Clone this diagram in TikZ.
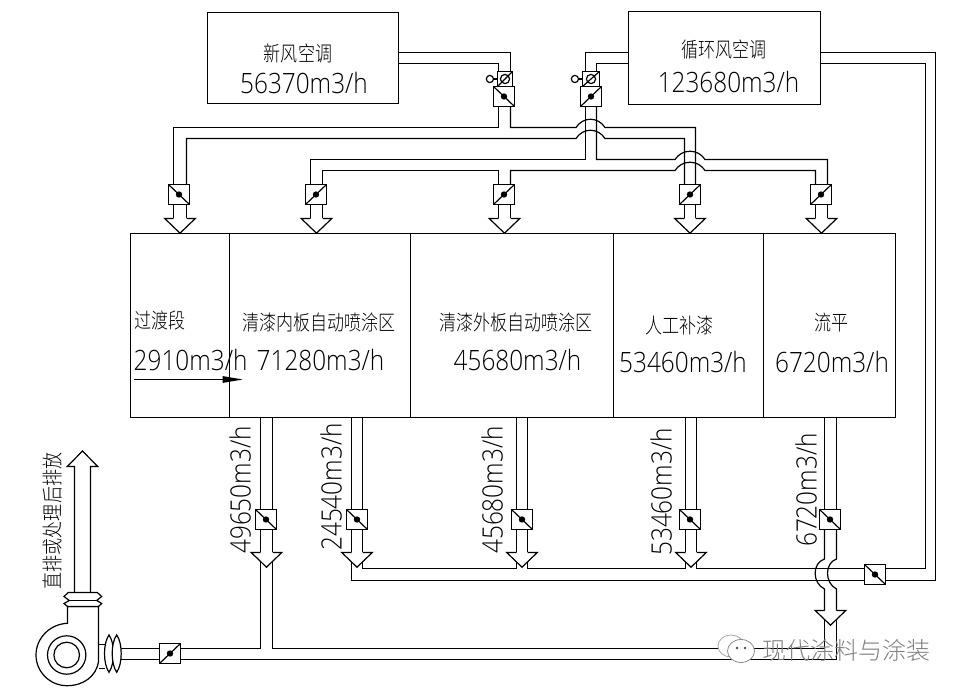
\documentclass[tikz,border=0pt]{standalone}
\usepackage{fontspec}
\setmainfont{Open Sans Light}[FakeStretch=0.87]
\newfontfamily\cjk{Noto Sans CJK SC Light}[FakeStretch=0.81]
\newfontfamily\cjkw{Noto Sans CJK SC Light}
\usetikzlibrary{calc}
\tikzset{
  duct/.style={draw=black,line width=1.2pt,line join=miter},
  damper/.style={draw=black,line width=1.2pt,fill=white,rectangle,inner sep=0pt,outer sep=0pt,minimum width=21pt,minimum height=20pt},
  room/.style={draw=black,line width=1.2pt,rectangle,inner sep=0pt,outer sep=0pt,anchor=north west},
  unit/.style={draw=black,line width=1.2pt,rectangle,inner sep=0pt,outer sep=0pt,anchor=north west},
  num/.style={inner sep=0pt,font=\fontsize{28}{30}\selectfont},
  zh/.style={inner sep=0pt,font=\cjk\fontsize{21}{23}\selectfont},
  wm/.style={inner sep=0pt,text=black!50,font=\cjkw\fontsize{24}{26}\selectfont},
}
\newcommand\dback[1]{\draw[duct] (#1.north west) -- (#1.south east); \fill (#1.center) circle (3.2pt);}
\newcommand\dfwd[1]{\draw[duct] (#1.south west) -- (#1.north east); \fill (#1.center) circle (3.2pt);}
\newcommand\headd[3]{\draw[duct] (#1-#2,#3) -- (#1-15.3,#3) -- (#1,#3+14.7) -- (#1+15.3,#3) -- (#1+#2,#3);}
\begin{document}
\begin{tikzpicture}[x=1pt,y=-1pt]
\useasboundingbox (0,0) rectangle (962,692);
\fill[white] (0,0) rectangle (962,692);

% units
\node[unit,minimum width=191pt,minimum height=91pt] (fresh) at (207.5,12.5) {};
\node[unit,minimum width=192pt,minimum height=93pt] (recirc) at (628.5,11.5) {};
\node[zh] (t1) at (298,53) {新风空调};
\node[num] (t2) at (304,83) {56370m3/h};
\node[zh] (t3) at (724,50) {循环风空调};
\node[num] (t4) at (728.5,82) {123680m3/h};

% rooms
\node[room,minimum width=99pt,minimum height=184pt] (s1) at (130.5,233.5) {};
\node[room,minimum width=181pt,minimum height=184pt] (s2) at (229.5,233.5) {};
\node[room,minimum width=203pt,minimum height=184pt] (s3) at (410.5,233.5) {};
\node[room,minimum width=150pt,minimum height=184pt] (s4) at (613.5,233.5) {};
\node[room,minimum width=132pt,minimum height=184pt] (s5) at (763.5,233.5) {};
\node[zh,anchor=west] (n1) at (134,321) {过渡段};
\node[num,anchor=west] (v1) at (133.5,360) {2910m3/h};
\node[zh] (n2) at (319,323) {清漆内板自动喷涂区};
\node[num] (v2) at (320.5,360) {71280m3/h};
\node[zh] (n3) at (516,323) {清漆外板自动喷涂区};
\node[num] (v3) at (517.5,360) {45680m3/h};
\node[zh] (n4) at (679.5,325) {人工补漆};
\node[num] (v4) at (683,362) {53460m3/h};
\node[zh] (n5) at (831.5,323) {流平};
\node[num] (v5) at (832,362) {6720m3/h};
\coordinate (flowa) at (134,379.5);
\coordinate (flowb) at (222.7,379.5);
\draw[line width=1.2pt] (flowa) -- (flowb);
\fill (flowb) ++(0,-3.4) -- (242.7,379.5) -- (222.7,382.9) -- cycle;

% supply ducts: fresh
\draw[duct] (398,52.5) -- (510.5,52.5) -- (510.5,71.5);
\draw[duct] (398,63.5) -- (498.5,63.5) -- (498.5,71.5);
\draw[duct] (628,52.5) -- (585.5,52.5) -- (585.5,71.5);
\draw[duct] (628,63.5) -- (596.5,63.5) -- (596.5,71.5);
\draw[duct] (498.5,106.5) -- (498.5,127.5) -- (173.5,127.5) -- (173.5,204.5);
\draw[duct] (186.5,204.5) -- (186.5,138.5) -- (576,138.5) .. controls (583,127.5) and (598,127.5) .. (605,138.5) -- (684.5,138.5) -- (684.5,204.5);
\draw[duct] (510.5,106.5) -- (510.5,127.5) -- (576,127.5) .. controls (583,116.5) and (598,116.5) .. (605,127.5) -- (695.5,127.5) -- (695.5,204.5);
% supply ducts: recirculated
\draw[duct] (585.5,106.5) -- (585.5,159.5) -- (310.5,159.5) -- (310.5,204.5);
\draw[duct] (596.5,106.5) -- (596.5,159.5) -- (675,159.5) .. controls (682,148.5) and (698,148.5) .. (705,159.5) -- (827.5,159.5) -- (827.5,204.5);
\draw[duct] (322.5,204.5) -- (322.5,170.5) -- (498.5,170.5) -- (498.5,204.5);
\draw[duct] (510.5,204.5) -- (510.5,170.5) -- (675,170.5) .. controls (682,159.5) and (698,159.5) .. (705,170.5) -- (815.5,170.5) -- (815.5,204.5);

% supply shafts and heads
\foreach \c/\h in {180/6.5,316.5/6,504.5/6,690/5.5,821.5/6}{
  \draw[duct] (\c-\h,204.5) -- (\c-\h,218.5);
  \draw[duct] (\c+\h,204.5) -- (\c+\h,218.5);
  \headd{\c}{\h}{218.5}
}

% top dampers
\node[damper,minimum width=15pt,minimum height=15pt] (a1) at (505,79) {};
\draw[duct] (a1.south west) -- (a1.north east); \draw[duct] (a1.center) circle (4.6pt);
\draw[duct] (a1.west) -- ++(-4,0) coordinate (a1k); \draw[duct] ($(a1k)+(-3.6,0)$) circle (3.6pt);
\node[damper,minimum width=17pt,minimum height=15pt] (a2) at (591,79) {};
\draw[duct] (a2.south west) -- (a2.north east); \draw[duct] (a2.center) circle (4.6pt);
\draw[duct] (a2.west) -- ++(-4,0) coordinate (a2k); \draw[duct] ($(a2k)+(-3.6,0)$) circle (3.6pt);
\node[damper] (b1) at (504,96.5) {}; \dback{b1}
\node[damper] (b2) at (591,96.5) {}; \dfwd{b2}
\node[damper] (d1) at (179,194.5) {}; \dback{d1}
\node[damper] (d2) at (316,194.5) {}; \dfwd{d2}
\node[damper] (d3) at (504,194.5) {}; \dfwd{d3}
\node[damper] (d4) at (690,194.5) {}; \dfwd{d4}
\node[damper] (d5) at (821,194.5) {}; \dfwd{d5}

% exhaust drops
\foreach \c/\h in {266.5/6,357/5.5,522/5.5,691/5.5,830.5/6}{
  \draw[duct] (\c-\h,417.5) -- (\c-\h,509.5);
  \draw[duct] (\c+\h,417.5) -- (\c+\h,509.5);
}
\foreach \c/\h in {266.5/6,357/5.5,522/5.5,691/5.5}{
  \draw[duct] (\c-\h,529.5) -- (\c-\h,552.5);
  \draw[duct] (\c+\h,529.5) -- (\c+\h,552.5);
  \headd{\c}{\h}{552.5}
}
% return duct
\draw[duct] (351.5,562) -- (351.5,580.5) -- (935.5,580.5) -- (935.5,52.5) -- (820,52.5);
\draw[duct] (362.5,562) -- (362.5,568.5) -- (516.5,568.5) -- (516.5,562);
\draw[duct] (527.5,562) -- (527.5,568.5) -- (685.5,568.5) -- (685.5,562);
\draw[duct] (696.5,562) -- (696.5,568.5) -- (925.5,568.5) -- (925.5,63.5) -- (820,63.5);
% last drop with bridge
\draw[duct] (824.5,529.5) -- (824.5,559) .. controls (812,563) and (812,583) .. (824.5,589) -- (824.5,610.5);
\draw[duct] (836.5,529.5) -- (836.5,559) .. controls (824.5,563) and (824.5,583) .. (836.5,589) -- (836.5,610.5);
\headd{830.5}{6}{610.5}
\draw[duct] (824.5,620) -- (824.5,648.5);
\draw[duct] (836.5,620) -- (836.5,659.5);
% main exhaust
\draw[duct] (260.5,562) -- (260.5,648.5) -- (120.7,648.5);
\draw[duct] (272.5,562) -- (272.5,648.5) -- (824.5,648.5);
\draw[duct] (120.7,659.5) -- (836.5,659.5);

% lower dampers
\node[damper] (e1) at (266,519.5) {}; \dback{e1}
\node[damper] (e2) at (357,519.5) {}; \dback{e2}
\node[damper] (e3) at (522,519.5) {}; \dback{e3}
\node[damper] (e4) at (690,519.5) {}; \dback{e4}
\node[damper] (e5) at (830,519.5) {}; \dback{e5}
\node[damper] (r1) at (875,574.5) {}; \dback{r1}
\node[damper] (f1) at (170,653.5) {}; \dfwd{f1}

% rotated flow labels
\node[num,rotate=90] (x1) at (240,490) {49650m3/h};
\node[num,rotate=90] (x2) at (331,487) {24540m3/h};
\node[num,rotate=90] (x3) at (492,490) {45680m3/h};
\node[num,rotate=90] (x4) at (661,492) {53460m3/h};
\node[num,rotate=90] (x5) at (806,490) {6720m3/h};
\node[zh,rotate=90] (x6) at (53,521) {直排或处理后排放};

% fan
\coordinate (fanc) at (66.7,655);
\draw[duct] (fanc) circle (19.2pt);
\draw[duct] (fanc) circle (12.8pt);
\draw[duct] (67.5,606.5) -- (67.5,623.3) .. controls (50,624) and (36,638) .. (36,655) .. controls (36,672) and (50,685.7) .. (67,685.7) .. controls (84,685.7) and (96,676) .. (98.5,662) -- (98.5,606.5) -- cycle;
\draw[duct] (98.5,644.5) -- (105.3,644.5);
\draw[duct] (98.5,668.5) -- (105.3,668.5);
% vertical flexible joint
\draw[duct,fill=white] (68.3,592.5) -- (64,596.5) -- (69.3,600.5) -- (64,603.5) -- (67.5,606.5) -- (98.5,606.5) -- (101.7,603.5) -- (96.7,600.5) -- (101.7,596.5) -- (97.3,592.5) -- cycle;
\draw[duct] (69.3,600.5) -- (96.7,600.5);
% outlet stack
\draw[duct] (74.5,592.5) -- (74.5,466.5) -- (67.3,466.5) -- (82.5,451) -- (97.7,466.5) -- (90.5,466.5) -- (90.5,592.5);
% horizontal flexible joint
\draw[duct,fill=white] (109,635) .. controls (103,643) and (103,664) .. (109,672.3) .. controls (115,664) and (115,643) .. (109,635) -- cycle;
\draw[duct,fill=white] (116.7,635) .. controls (110.7,643) and (110.7,664) .. (116.7,672.3) .. controls (122.7,664) and (122.7,643) .. (116.7,635) -- cycle;

% watermark
\draw[black!35,line width=0.8pt,fill=white] (731,646) ellipse (13pt and 11pt);
\draw[black!45,line width=0.8pt,fill=white] (741,651) ellipse (13.5pt and 11.5pt);
\fill[black!70] (737,648) circle (1.3pt) (745,648) circle (1.3pt);
\node[wm] (w1) at (846.5,650) {现代涂料与涂装};
\end{tikzpicture}
\end{document}
